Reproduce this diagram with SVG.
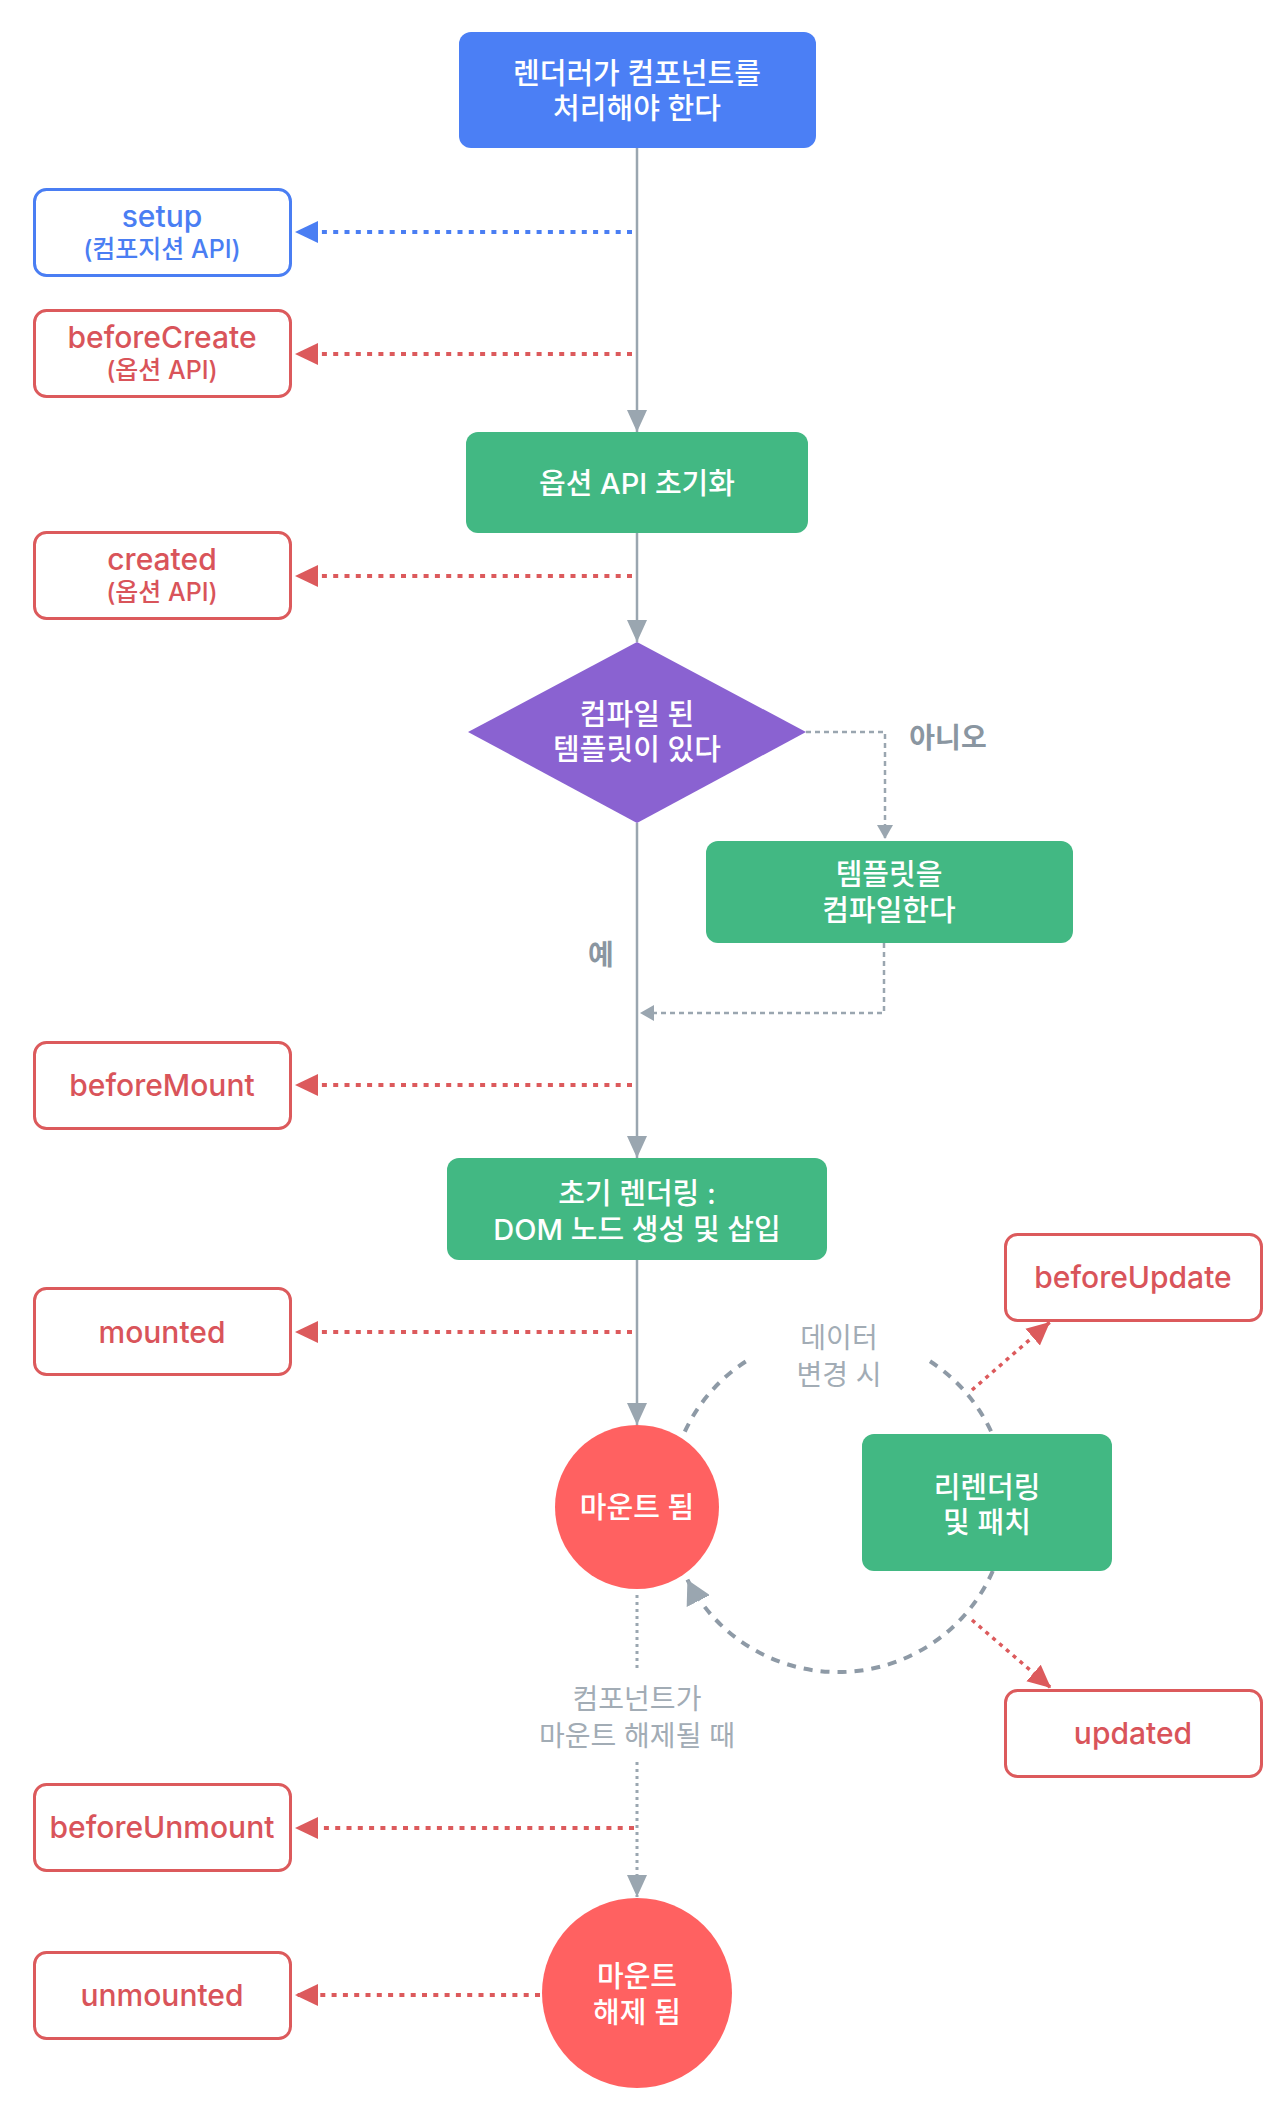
<svg xmlns="http://www.w3.org/2000/svg" width="1280" height="2103" viewBox="0 0 1280 2103">
<defs>
<style>
text{font-family:Inter,"Noto Sans CJK KR","Noto Sans",sans-serif;text-anchor:middle;dominant-baseline:central}
.wt{fill:#ffffff;font-size:29px;font-weight:500}
.hook{fill:#ffffff;stroke:#dc5a5c;stroke-width:3}
.hookb{fill:#ffffff;stroke:#4a7ef3;stroke-width:3}
.ht{fill:#d9545a;font-size:30px;font-weight:500}
.hs{fill:#d9545a;font-size:25px;font-weight:500}
.bt{fill:#4a7ef3;font-size:30px;font-weight:500}
.bs{fill:#4a7ef3;font-size:25px;font-weight:500}
.green{fill:#42b883}
.main{stroke:#9aa6b0;stroke-width:2.5;fill:none}
.dotr{stroke:#dc5a5c;stroke-width:4;fill:none;stroke-dasharray:5 6.3}
.dotb{stroke:#4a7ef3;stroke-width:4;fill:none;stroke-dasharray:5 6.3}
.dash{stroke:#9aa6b0;stroke-width:2.5;fill:none;stroke-dasharray:5 4}
.arc{stroke:#8e9aa6;stroke-width:4;fill:none;stroke-dasharray:9 8}
.dotg{stroke:#9aa6b0;stroke-width:3;fill:none;stroke-dasharray:3 4}
.dotr2{stroke:#dc5a5c;stroke-width:3.5;fill:none;stroke-dasharray:4 5}
.lbl{fill:#8a96a1;font-size:28px;font-weight:600}
.lbl2{fill:#a2acb5;font-size:28px;font-weight:400}
</style>
<marker id="aGray" markerUnits="userSpaceOnUse" markerWidth="22" markerHeight="22" viewBox="0 0 22 22" refX="22" refY="11" orient="auto"><path d="M0,1 L22,11 L0,21 z" fill="#9aa6b0"/></marker>
<marker id="aGraySm" markerUnits="userSpaceOnUse" markerWidth="14" markerHeight="16" viewBox="0 0 14 16" refX="14" refY="8" orient="auto"><path d="M0,0 L14,8 L0,16 z" fill="#9aa6b0"/></marker>
<marker id="aArc" markerUnits="userSpaceOnUse" markerWidth="26" markerHeight="26" viewBox="0 0 26 26" refX="24" refY="13" orient="auto"><path d="M0,0 L24,13 L0,26 z" fill="#9aa6b0"/></marker>
<marker id="aRed" markerUnits="userSpaceOnUse" markerWidth="24" markerHeight="24" viewBox="0 0 24 24" refX="23" refY="12" orient="auto"><path d="M0,1 L23,12 L0,23 z" fill="#dc5a5c"/></marker>
<marker id="aBlue" markerUnits="userSpaceOnUse" markerWidth="24" markerHeight="24" viewBox="0 0 24 24" refX="23" refY="12" orient="auto"><path d="M0,1 L23,12 L0,23 z" fill="#4a7ef3"/></marker>
</defs>
<rect width="1280" height="2103" fill="#ffffff"/>

<g id="connectors">
<line class="main" x1="637" y1="148" x2="637" y2="432" marker-end="url(#aGray)"/>
<line class="main" x1="637" y1="533" x2="637" y2="642" marker-end="url(#aGray)"/>
<line class="main" x1="637" y1="823" x2="637" y2="1158" marker-end="url(#aGray)"/>
<line class="main" x1="637" y1="1260" x2="637" y2="1425" marker-end="url(#aGray)"/>
<line class="dotb" x1="632" y1="232" x2="295" y2="232" marker-end="url(#aBlue)"/>
<line class="dotr" x1="632" y1="354" x2="295" y2="354" marker-end="url(#aRed)"/>
<line class="dotr" x1="632" y1="576" x2="295" y2="576" marker-end="url(#aRed)"/>
<line class="dotr" x1="632" y1="1085" x2="295" y2="1085" marker-end="url(#aRed)"/>
<line class="dotr" x1="632" y1="1332" x2="295" y2="1332" marker-end="url(#aRed)"/>
<line class="dotr" x1="634" y1="1828" x2="295" y2="1828" marker-end="url(#aRed)"/>
<line class="dotr" x1="540" y1="1995" x2="295" y2="1995" marker-end="url(#aRed)"/>
<path class="dash" d="M806,732 H885 V839" marker-end="url(#aGraySm)"/>
<path class="dash" d="M884,943 V1013 H640" marker-end="url(#aGraySm)"/>
<path class="arc" d="M684.8,1431.6 A169,169 0 0 1 746,1361.3"/>
<path class="arc" d="M930,1361.3 A169,169 0 1 1 687.4,1579.7" marker-end="url(#aArc)"/>
<line class="dotr2" x1="972" y1="1390" x2="1050" y2="1322" marker-end="url(#aRed)"/>
<line class="dotr2" x1="972" y1="1620" x2="1051" y2="1688" marker-end="url(#aRed)"/>
<line class="dotg" x1="637" y1="1595" x2="637" y2="1672"/>
<line class="dotg" x1="637" y1="1762" x2="637" y2="1897" marker-end="url(#aGray)"/>
</g>

<g id="n-start">
<rect x="459" y="32" width="357" height="116" rx="12" fill="#4b7ff5"/>
<text class="wt" x="637" y="73">렌더러가 컴포넌트를</text>
<text class="wt" x="637" y="108">처리해야 한다</text>
</g>
<g id="n-setup">
<rect class="hookb" x="34.5" y="189.5" width="256" height="86" rx="12"/>
<text class="bt" x="162" y="216">setup</text>
<text class="bs" x="162" y="249">(컴포지션 API)</text>
</g>
<g id="n-beforeCreate">
<rect class="hook" x="34.5" y="310.5" width="256" height="86" rx="12"/>
<text class="ht" x="162" y="337">beforeCreate</text>
<text class="hs" x="162" y="370">(옵션 API)</text>
</g>
<g id="n-init">
<rect class="green" x="466" y="432" width="342" height="101" rx="12"/>
<text class="wt" x="637" y="483">옵션 API 초기화</text>
</g>
<g id="n-created">
<rect class="hook" x="34.5" y="532.5" width="256" height="86" rx="12"/>
<text class="ht" x="162" y="559">created</text>
<text class="hs" x="162" y="592">(옵션 API)</text>
</g>
<g id="n-decision">
<polygon points="637,642 806,732 637,823 468,732" fill="#8a62d1"/>
<text class="wt" x="637" y="714">컴파일 된</text>
<text class="wt" x="637" y="749">템플릿이 있다</text>
</g>
<text class="lbl" x="948" y="738">아니오</text>
<text class="lbl" x="601" y="955">예</text>
<g id="n-compile">
<rect class="green" x="706" y="841" width="367" height="102" rx="12"/>
<text class="wt" x="889" y="874">템플릿을</text>
<text class="wt" x="889" y="910">컴파일한다</text>
</g>
<g id="n-beforeMount">
<rect class="hook" x="34.5" y="1042.5" width="256" height="86" rx="12"/>
<text class="ht" x="162" y="1085">beforeMount</text>
</g>
<g id="n-render">
<rect class="green" x="447" y="1158" width="380" height="102" rx="12"/>
<text class="wt" x="637" y="1193">초기 렌더링 :</text>
<text class="wt" x="637" y="1229">DOM 노드 생성 및 삽입</text>
</g>
<g id="n-mounted">
<rect class="hook" x="34.5" y="1288.5" width="256" height="86" rx="12"/>
<text class="ht" x="162" y="1332">mounted</text>
</g>
<g id="n-beforeUpdate">
<rect class="hook" x="1005.5" y="1234.5" width="256" height="86" rx="12"/>
<text class="ht" x="1133" y="1277">beforeUpdate</text>
</g>
<text class="lbl2" x="839" y="1338">데이터</text>
<text class="lbl2" x="839" y="1375">변경 시</text>
<g id="n-mountedState">
<circle cx="637" cy="1507" r="82" fill="#ff6161"/>
<text class="wt" x="637" y="1507">마운트 됨</text>
</g>
<g id="n-rerender">
<rect class="green" x="862" y="1434" width="250" height="137" rx="12"/>
<text class="wt" x="987" y="1487">리렌더링</text>
<text class="wt" x="987" y="1522">및 패치</text>
</g>
<g id="n-updated">
<rect class="hook" x="1005.5" y="1690.5" width="256" height="86" rx="12"/>
<text class="ht" x="1133" y="1733">updated</text>
</g>
<text class="lbl2" x="637" y="1699">컴포넌트가</text>
<text class="lbl2" x="637" y="1736">마운트 해제될 때</text>
<g id="n-beforeUnmount">
<rect class="hook" x="34.5" y="1784.5" width="256" height="86" rx="12"/>
<text class="ht" x="162" y="1827">beforeUnmount</text>
</g>
<g id="n-unmountedState">
<circle cx="637" cy="1993" r="95" fill="#ff6161"/>
<text class="wt" x="637" y="1976">마운트</text>
<text class="wt" x="637" y="2012">해제 됨</text>
</g>
<g id="n-unmounted">
<rect class="hook" x="34.5" y="1952.5" width="256" height="86" rx="12"/>
<text class="ht" x="162" y="1995">unmounted</text>
</g>
</svg>
